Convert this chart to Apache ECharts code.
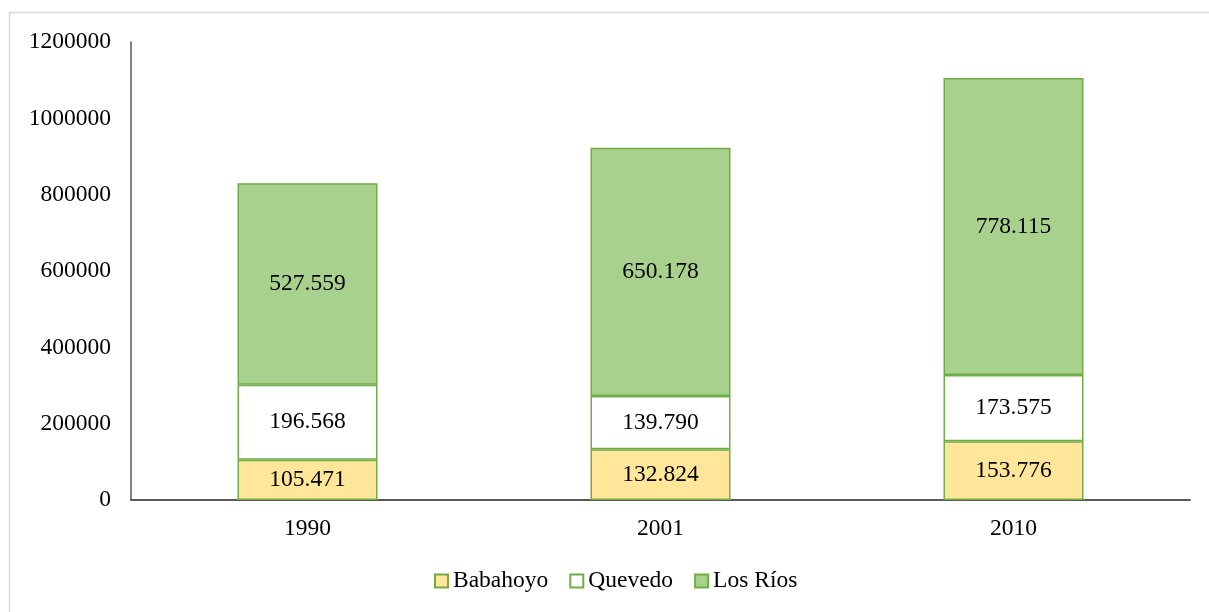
<!DOCTYPE html>
<html>
<head>
<meta charset="utf-8">
<script src="https://cdn.jsdelivr.net/npm/echarts@6/dist/echarts.min.js"></script>
<style>
  html, body { margin: 0; padding: 0; background: #fff; }
  #chart { width: 1209px; height: 612px; }
</style>
</head>
<body>
<div id="chart"></div>
<script>
  // datos
  const years = ['1990', '2001', '2010'];
  const babahoyo = [105471, 132824, 153776];
  const quevedo = [196568, 139790, 173575];
  const losRios = [527559, 650178, 778115];

  const font = '"Liberation Serif", "DejaVu Serif", serif';
  const green = '#70AD47';
  const fs = 23.5;

  // 105471 -> "105.471"
  function fmt(v) {
    return String(v).replace(/\B(?=(\d{3})+(?!\d))/g, '.');
  }

  function serie(name, data, color) {
    return {
      name: name,
      type: 'bar',
      stack: 'total',
      barWidth: 140,
      data: data,
      itemStyle: { color: color, borderColor: green, borderWidth: 1.5 },
      label: {
        show: true,
        position: 'inside',
        color: '#000',
        fontFamily: font,
        fontSize: fs,
        formatter: p => fmt(p.value)
      }
    };
  }

  let chart = echarts.init(document.getElementById('chart'));
  chart.setOption({
    backgroundColor: '#fff',
    animation: false,
    textStyle: { fontFamily: font },
    graphic: [{
      type: 'rect',
      shape: { x: 9.5, y: 12.5, width: 1230, height: 640 },
      style: { fill: 'none', stroke: '#d9d9d9', lineWidth: 1.5 },
      silent: true
    }],
    grid: { left: 131, right: 19, top: 42, bottom: 112 },
    legend: {
      bottom: 14,
      left: 429,
      itemWidth: 13,
      itemHeight: 13,
      itemGap: 21,
      icon: 'rect',
      itemStyle: { borderColor: green, borderWidth: 2 },
      textStyle: { fontFamily: font, fontSize: fs, color: '#000' },
      data: ['Babahoyo', 'Quevedo', 'Los Ríos']
    },
    xAxis: {
      type: 'category',
      data: years,
      axisLine: { lineStyle: { color: '#595959', width: 2 } },
      axisTick: { show: false },
      axisLabel: { color: '#000', fontFamily: font, fontSize: fs, margin: 17 }
    },
    yAxis: {
      type: 'value',
      min: 0,
      max: 1200000,
      interval: 200000,
      axisLine: { show: true, lineStyle: { color: '#595959', width: 1.5 } },
      axisTick: { show: false },
      splitLine: { show: false },
      axisLabel: {
        color: '#000', fontFamily: font, fontSize: fs, margin: 20,
        formatter: v => String(v)
      }
    },
    series: [
      serie('Babahoyo', babahoyo, '#FFE699'),
      serie('Quevedo', quevedo, '#FFFFFF'),
      serie('Los Ríos', losRios, '#A9D18E')
    ]
  });
</script>
</body>
</html>
